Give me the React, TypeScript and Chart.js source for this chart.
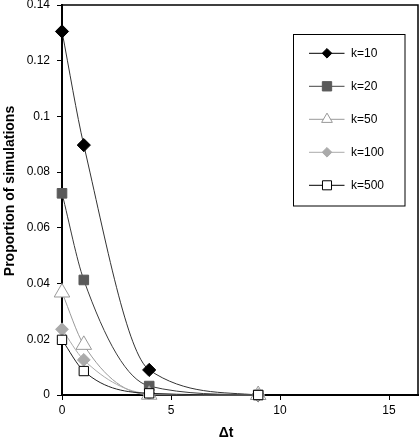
import React, { useEffect, useRef } from 'react';
import { Chart, registerables } from 'chart.js';

Chart.register(...registerables);

const deltaT = [0, 1, 4, 9];
const seriesLabels = ['k=10', 'k=20', 'k=50', 'k=100', 'k=500'];
const k10 = [0.1305, 0.0897, 0.009, 0];
const k20 = [0.0724, 0.0413, 0.0032, 0];
const k50 = [0.0368, 0.018, 0.0001, 0];
const k100 = [0.0236, 0.0126, 0.0005, 0];
const k500 = [0.0198, 0.0086, 0.0006, 0];
const xTickValues = [0, 5, 10, 15];
const yTickValues = [0, 0.02, 0.04, 0.06, 0.08, 0.1, 0.12, 0.14];
const xTitle = 'Δt';
const yTitle = 'Proportion of simulations';

const FONT = '"Liberation Sans", Arial, Helvetica, sans-serif';

const styles = [
  { line: '#333333', fill: '#000000', border: '#000000', shape: 'rectRot', r: 6.6, lr: 4.8, legendLine: '#000000' },
  { line: '#3a3a3a', fill: '#5a5a5a', border: '#5a5a5a', shape: 'rect', r: 6.8, lr: 6.6, legendLine: '#444444' },
  { line: '#999999', fill: '#ffffff', border: '#999999', shape: 'triangle', r: 9, lr: 6.2, legendLine: '#999999' },
  { line: '#aaaaaa', fill: '#aaaaaa', border: '#aaaaaa', shape: 'rectRot', r: 6.4, lr: 4.8, legendLine: '#aaaaaa' },
  { line: '#222222', fill: '#ffffff', border: '#000000', shape: 'rect', r: 6.6, lr: 6.4, legendLine: '#000000' },
];

function drawShape(ctx: CanvasRenderingContext2D, shape: string, x: number, y: number, r: number) {
  ctx.beginPath();
  if (shape === 'rectRot') {
    ctx.moveTo(x - r, y);
    ctx.lineTo(x, y - r);
    ctx.lineTo(x + r, y);
    ctx.lineTo(x, y + r);
    ctx.closePath();
  } else if (shape === 'rect') {
    const s = Math.SQRT1_2 * r;
    ctx.rect(x - s, y - s, 2 * s, 2 * s);
  } else if (shape === 'triangle') {
    ctx.moveTo(x, y - r);
    ctx.lineTo(x + r * Math.sin(Math.PI / 3), y + r / 2);
    ctx.lineTo(x - r * Math.sin(Math.PI / 3), y + r / 2);
    ctx.closePath();
  }
  ctx.fill();
  ctx.stroke();
}

const framePlugin = {
  id: 'framePlugin',
  afterDraw(chart: any) {
    const { ctx, chartArea } = chart;
    ctx.save();
    ctx.strokeStyle = '#000';
    ctx.lineWidth = 1.5;
    ctx.beginPath();
    ctx.moveTo(chartArea.left, chartArea.top);
    ctx.lineTo(chartArea.right, chartArea.top);
    ctx.lineTo(chartArea.right, chartArea.bottom);
    ctx.stroke();

    const bx = 293.5, by = 34.5, bw = 111.5, bh = 171.5;
    ctx.fillStyle = '#fff';
    ctx.fillRect(bx, by, bw, bh);
    ctx.lineWidth = 1;
    ctx.strokeStyle = '#000';
    ctx.strokeRect(bx, by, bw, bh);
    chart.data.datasets.forEach((ds: any, i: number) => {
      const st = styles[i];
      const y = 53.3 + i * 33;
      ctx.beginPath();
      ctx.strokeStyle = st.legendLine;
      ctx.lineWidth = 1;
      ctx.moveTo(309, y);
      ctx.lineTo(344.5, y);
      ctx.stroke();
      ctx.fillStyle = st.fill;
      ctx.strokeStyle = st.border;
      drawShape(ctx, st.shape, 327, y, st.lr);
      ctx.fillStyle = '#000';
      ctx.font = `12px ${FONT}`;
      ctx.textAlign = 'left';
      ctx.textBaseline = 'middle';
      ctx.fillText(ds.label, 351, y + 0.5);
    });

    ctx.fillStyle = '#000';
    ctx.font = `bold 14px ${FONT}`;
    ctx.textAlign = 'center';
    ctx.textBaseline = 'middle';
    ctx.fillText(xTitle, 226, 433);
    ctx.translate(10.5, 191);
    ctx.rotate(-Math.PI / 2);
    ctx.fillText(yTitle, 0, 0);
    ctx.restore();
  },
};

export default function App() {
  const ref = useRef<HTMLCanvasElement | null>(null);

  useEffect(() => {
    if (!ref.current) return;
    const series = [k10, k20, k50, k100, k500];
    const chart = new Chart(ref.current, {
      type: 'line',
      data: {
        datasets: series.map((vals, i) => ({
          label: seriesLabels[i],
          data: deltaT.map((x, j) => ({ x, y: vals[j] })),
          borderColor: styles[i].line,
          borderWidth: 1,
          backgroundColor: styles[i].fill,
          pointBackgroundColor: styles[i].fill,
          pointBorderColor: styles[i].border,
          pointBorderWidth: 1,
          pointStyle: styles[i].shape as any,
          pointRadius: styles[i].r,
          cubicInterpolationMode: 'monotone' as const,
          fill: false,
          clip: false as any,
          order: 4 - i,
        })),
      },
      options: {
        responsive: false,
        animation: false,
        devicePixelRatio: 1,
        layout: { autoPadding: false, padding: { top: 5, right: 2, left: 0, bottom: 0 } },
        plugins: {
          legend: { display: false },
          tooltip: { enabled: false },
          title: { display: false },
        },
        scales: {
          x: {
            type: 'linear',
            position: 'bottom',
            min: 0,
            max: 16.33,
            afterBuildTicks: (s: any) => {
              s.ticks = xTickValues.map((v) => ({ value: v }));
            },
            afterFit: (s: any) => {
              s.height = 45;
              s.paddingLeft = 0;
              s.paddingRight = 0;
            },
            ticks: {
              color: '#000',
              font: { size: 12, family: FONT },
              padding: 3,
              maxRotation: 0,
              autoSkip: false,
              callback: (v: any) => String(v),
            },
            grid: {
              display: true,
              drawOnChartArea: false,
              drawTicks: true,
              tickLength: 5,
              color: '#000',
              lineWidth: 1,
            },
            border: { display: true, color: '#000', width: 2 },
          },
          y: {
            type: 'linear',
            min: 0,
            max: 0.14,
            afterBuildTicks: (s: any) => {
              s.ticks = yTickValues.map((v) => ({ value: v }));
            },
            afterFit: (s: any) => {
              s.width = 62;
              s.paddingTop = 0;
              s.paddingBottom = 0;
            },
            ticks: {
              color: '#000',
              font: { size: 12, family: FONT },
              padding: 7,
              autoSkip: false,
              callback: (v: any) => String(Math.round(Number(v) * 1000) / 1000),
            },
            grid: {
              display: true,
              drawOnChartArea: false,
              drawTicks: true,
              tickLength: 5,
              color: '#000',
              lineWidth: 1,
            },
            border: { display: true, color: '#000', width: 2 },
          },
        },
      },
      plugins: [framePlugin],
    });
    return () => chart.destroy();
  }, []);

  return (
    <div style={{ position: 'fixed', left: 0, top: 0, width: 420, height: 440, background: '#fff' }}>
      <canvas ref={ref} width={420} height={440} style={{ width: 420, height: 440 }} />
    </div>
  );
}
